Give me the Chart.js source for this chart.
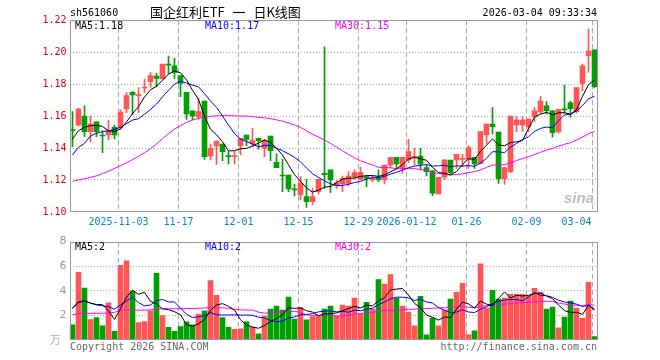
<!DOCTYPE html>
<html><head><meta charset="utf-8">
<script src="https://cdn.jsdelivr.net/npm/chart.js@4/dist/chart.umd.min.js"></script>
<style>
html,body{margin:0;padding:0;background:#fff;}
body{width:660px;height:360px;position:relative;overflow:hidden;font-family:"DejaVu Sans Mono",monospace;}
.t{position:absolute;white-space:pre;font-size:10px;line-height:12px;height:12px;}
canvas{position:absolute;left:0;}
</style></head><body>
<canvas id="k" width="660" height="232" style="top:0;width:660px;height:232px"></canvas>
<canvas id="v" width="660" height="128" style="top:232px;width:660px;height:128px"></canvas>
<script>
const dates = [
"2025-10-22","2025-10-23","2025-10-24","2025-10-27","2025-10-28","2025-10-29","2025-10-30","2025-10-31",
"2025-11-03","2025-11-04","2025-11-05","2025-11-06","2025-11-07",
"2025-11-10","2025-11-11","2025-11-12","2025-11-13","2025-11-14",
"2025-11-17","2025-11-18","2025-11-19","2025-11-20","2025-11-21",
"2025-11-24","2025-11-25","2025-11-26","2025-11-27","2025-11-28",
"2025-12-01","2025-12-02","2025-12-03","2025-12-04","2025-12-05",
"2025-12-08","2025-12-09","2025-12-10","2025-12-11","2025-12-12",
"2025-12-15","2025-12-16","2025-12-17","2025-12-18","2025-12-19",
"2025-12-22","2025-12-23","2025-12-24","2025-12-25","2025-12-26",
"2025-12-29","2025-12-30","2025-12-31",
"2026-01-05","2026-01-06","2026-01-07","2026-01-08","2026-01-09",
"2026-01-12","2026-01-13","2026-01-14","2026-01-15","2026-01-16",
"2026-01-19","2026-01-20","2026-01-21","2026-01-22","2026-01-23",
"2026-01-26","2026-01-27","2026-01-28","2026-01-29","2026-01-30",
"2026-02-02","2026-02-03","2026-02-04","2026-02-05","2026-02-06",
"2026-02-09","2026-02-10","2026-02-11","2026-02-12","2026-02-13",
"2026-02-24","2026-02-25","2026-02-26","2026-02-27",
"2026-03-02","2026-03-03","2026-03-04"];

const openP = [1.1515,1.1544,1.1600,1.1502,1.1563,1.1479,1.1481,1.1529,1.1529,1.1644,
1.1748,1.1727,1.1775,1.1815,1.1850,1.1831,1.1925,1.1913,1.1852,1.1748,
1.1633,1.1596,1.1694,1.1350,1.1413,1.1425,1.1350,1.1346,1.1413,1.1481,
1.1425,1.1460,1.1398,1.1475,1.1310,1.1229,1.1231,1.1142,1.1106,1.1096,
1.1065,1.1127,1.1242,1.1263,1.1163,1.1175,1.1179,1.1221,1.1204,1.1221,
1.1200,1.1217,1.1200,1.1294,1.1342,1.1273,1.1325,1.1342,1.1350,1.1277,
1.1258,1.1113,1.1217,1.1325,1.1325,1.1329,1.1329,1.1342,1.1304,1.1481,
1.1550,1.1500,1.1208,1.1252,1.1544,1.1544,1.1533,1.1596,1.1625,1.1663,
1.1633,1.1502,1.1642,1.1683,1.1627,1.1804,1.1977,1.2013];
const highP = [1.1627,1.1648,1.1663,1.1600,1.1563,1.1508,1.1575,1.1544,1.1638,1.1746,
1.1752,1.1777,1.1829,1.1871,1.1867,1.1925,1.1975,1.1960,1.1852,1.1748,
1.1633,1.1710,1.1694,1.1425,1.1444,1.1425,1.1377,1.1377,1.1460,1.1481,
1.1523,1.1460,1.1454,1.1475,1.1363,1.1329,1.1231,1.1175,1.1221,1.1204,
1.1148,1.1204,1.2033,1.1263,1.1200,1.1225,1.1252,1.1263,1.1279,1.1225,
1.1225,1.1263,1.1294,1.1342,1.1342,1.1342,1.1454,1.1398,1.1398,1.1294,
1.1258,1.1217,1.1329,1.1325,1.1360,1.1360,1.1413,1.1342,1.1502,1.1550,
1.1652,1.1500,1.1277,1.1600,1.1596,1.1596,1.1581,1.1652,1.1725,1.1690,
1.1633,1.1642,1.1794,1.1694,1.1777,1.1925,1.2144,1.2013];
const lowP = [1.1408,1.1538,1.1471,1.1440,1.1471,1.1371,1.1450,1.1456,1.1517,1.1621,
1.1610,1.1621,1.1746,1.1779,1.1783,1.1831,1.1863,1.1835,1.1721,1.1579,
1.1575,1.1579,1.1329,1.1325,1.1298,1.1321,1.1300,1.1300,1.1356,1.1413,
1.1408,1.1392,1.1346,1.1321,1.1277,1.1127,1.1127,1.1100,1.1075,1.1029,
1.1044,1.1113,1.1148,1.1121,1.1148,1.1127,1.1163,1.1204,1.1200,1.1158,
1.1190,1.1190,1.1175,1.1279,1.1273,1.1242,1.1308,1.1294,1.1263,1.1225,
1.1102,1.1113,1.1204,1.1238,1.1273,1.1283,1.1273,1.1273,1.1300,1.1429,
1.1488,1.1179,1.1173,1.1246,1.1502,1.1502,1.1502,1.1565,1.1613,1.1613,
1.1467,1.1492,1.1617,1.1592,1.1617,1.1758,1.1873,1.1777];
const closeP = [1.1508,1.1644,1.1502,1.1550,1.1502,1.1475,1.1508,1.1481,1.1625,1.1727,
1.1731,1.1731,1.1779,1.1852,1.1835,1.1925,1.1917,1.1873,1.1804,1.1613,
1.1600,1.1627,1.1346,1.1398,1.1444,1.1377,1.1346,1.1350,1.1460,1.1454,
1.1446,1.1446,1.1446,1.1383,1.1277,1.1225,1.1144,1.1138,1.1179,1.1065,
1.1096,1.1204,1.1233,1.1200,1.1183,1.1210,1.1225,1.1246,1.1248,1.1210,
1.1210,1.1200,1.1294,1.1342,1.1300,1.1342,1.1377,1.1346,1.1300,1.1252,
1.1117,1.1217,1.1325,1.1246,1.1360,1.1333,1.1402,1.1300,1.1502,1.1550,
1.1533,1.1208,1.1277,1.1600,1.1575,1.1575,1.1581,1.1633,1.1694,1.1633,
1.1496,1.1642,1.1638,1.1646,1.1777,1.1913,1.2006,1.1783];
const volume = [1.23,5.51,4.22,1.66,1.82,1.15,3.02,0.70,6.07,6.44,
3.98,1.42,1.50,2.38,5.43,1.98,1.02,0.70,1.10,1.47,
1.23,2.11,2.38,4.84,3.64,1.82,1.02,0.86,0.91,1.47,
1.02,0.51,1.95,2.51,2.75,2.43,3.48,1.71,2.65,1.63,
1.90,1.90,2.51,2.75,1.95,2.83,2.75,3.40,2.11,3.07,
2.51,4.92,4.55,5.32,3.40,2.75,2.27,1.15,3.56,0.43,
1.79,1.15,2.43,3.32,3.88,4.60,0.43,0.75,6.20,2.59,
4.04,3.32,3.40,3.72,3.72,3.72,3.56,4.20,3.88,2.51,
2.67,0.99,1.87,3.16,2.59,1.79,4.68,0.27];

// moving-average values visible before enough in-window data exists
const ma5Lead = [1.1456,1.1508,1.1529,1.1540];
const ma10Lead = [1.1356,1.1404,1.1429,1.1475,1.1492,1.1502,1.1508,1.1517,1.1529];
const ma30Lead = [1.1192,1.1200,1.1208,1.1217,1.1226,1.1240,1.1255,1.1272,1.1290,1.1308,
1.1327,1.1348,1.1370,1.1395,1.1425,1.1458,1.1490,1.1518,1.1540,1.1560,
1.1575,1.1586,1.1593,1.1598,1.1601,1.1602,1.1602,1.1601,1.1600];
const vma5Lead = [2.60,3.10,3.20,3.00];
const vma10Lead = [2.55,3.05,3.15,3.00,2.85,2.78,2.72,2.50,2.85];
const vma30Lead = [2.06,2.12,2.17,2.17,2.17,2.17,2.20,2.25,2.40,2.43,
2.43,2.43,2.43,2.45,2.52,2.54,2.54,2.54,2.54,2.56,
2.56,2.58,2.60,2.62,2.62,2.62,2.58,2.50,2.45];

const priceTicks = [1.10,1.12,1.14,1.16,1.18,1.20,1.22];
const volTicks = [0,2,4,6,8];
const dateTickIdx = [8,18,28,38,48,56,66,76,87];
const dateTickText = ["2025-11-03","11-17","12-01","12-15","12-29","2026-01-12","01-26","02-09","03-04"];

const RED = '#ff5555', GREEN = '#00a000';
function movingAvg(src, n, lead){
  return src.map((_, i) => i < n - 1 ? lead[i] : src.slice(i - n + 1, i + 1).reduce((a, b) => a + b, 0) / n);
}
const ma5 = movingAvg(closeP, 5, ma5Lead), ma10 = movingAvg(closeP, 10, ma10Lead), ma30 = movingAvg(closeP, 30, ma30Lead);
const vma5 = movingAvg(volume, 5, vma5Lead), vma10 = movingAvg(volume, 10, vma10Lead), vma30 = movingAvg(volume, 30, vma30Lead);
const upColor = c => (closeP[c.dataIndex] >= openP[c.dataIndex] ? RED : GREEN);

function gridPlugin(withLabels){
  return {
    id: 'fg',
    beforeDatasetsDraw(chart){
      const {ctx, chartArea: a, scales: {x}} = chart;
      ctx.save();
      ctx.strokeStyle = '#aaaaaa'; ctx.lineWidth = 1; ctx.setLineDash([5, 3]);
      dateTickIdx.forEach(i => {
        const px = Math.floor(x.getPixelForValue(i) - 2) + 0.5;
        ctx.beginPath(); ctx.moveTo(px, Math.round(a.top)); ctx.lineTo(px, Math.round(a.bottom)); ctx.stroke();
      });
      ctx.restore();
    },
    afterDraw(chart){
      const {ctx, chartArea: a, scales: {x}} = chart;
      ctx.save();
      ctx.strokeStyle = '#999999'; ctx.lineWidth = 1; ctx.setLineDash([]);
      const l = Math.round(a.left), r = Math.round(a.right), t = Math.round(a.top), b = Math.round(a.bottom);
      ctx.strokeRect(l + 0.5, t + 0.5, r - l - 1, b - t - 1);
      if (withLabels){
        ctx.font = '10px "DejaVu Sans Mono"'; ctx.fillStyle = '#0a84d0'; ctx.textBaseline = 'middle';
        dateTickIdx.forEach((i, k) => {
          const px = Math.floor(x.getPixelForValue(i) - 2) + 0.5;
          const w = ctx.measureText(dateTickText[k]).width;
          if (px + w / 2 > a.right){ ctx.textAlign = 'right'; ctx.fillText(dateTickText[k], px - 1, b + 10); }
          else { ctx.textAlign = 'center'; ctx.fillText(dateTickText[k], px, b + 10); }
        });
      }
      ctx.restore();
    }
  };
}
const lineDs = (label, data, color) => ({type:'line', label, data, borderColor: color, borderWidth: 1, pointRadius: 0, tension: 0, fill: false, order: 0});
const xAxis = {type:'category', offset:true, grid:{display:false}, ticks:{display:false}, border:{display:false}, afterFit(s){ s.height = 20; }};

new Chart(document.getElementById('k'), {
  data: {
    labels: dates,
    datasets: [
      {type:'bar', label:'wick', data: lowP.map((l, i) => [l, highP[i]]), backgroundColor: upColor, barThickness: 1, grouped: false, order: 2},
      {type:'bar', label:'body', data: openP.map((o, i) => [o, closeP[i]]), backgroundColor: upColor, barThickness: 5, minBarLength: 1, grouped: false, order: 1},
      lineDs('MA5', ma5, '#000000'), lineDs('MA10', ma10, '#0000ff'), lineDs('MA30', ma30, '#ff00ff')
    ]
  },
  options: {
    responsive:false, animation:false, events:[],
    layout:{padding:{left:0, right:62.5, top:20, bottom:0}},
    plugins:{legend:{display:false}, tooltip:{enabled:false}},
    scales:{
      x: xAxis,
      y: {min:1.10, max:1.22,
          afterBuildTicks(s){ s.ticks = priceTicks.map(v => ({value:v})); },
          afterFit(s){ s.width = 69.5; },
          ticks:{color:'#e00000', padding:3, font:{family:'DejaVu Sans Mono', size:10}, callback: v => Number(v).toFixed(2)},
          grid:{drawTicks:false, lineWidth:1, color: c => (c.tick && (c.tick.value < 1.105 || c.tick.value > 1.215)) ? 'rgba(0,0,0,0)' : '#aaaaaa'},
          border:{display:false, dash:[1,2]}}
    }
  },
  plugins:[gridPlugin(true)]
});

new Chart(document.getElementById('v'), {
  data: {
    labels: dates,
    datasets: [
      {type:'bar', label:'vol', data: volume, backgroundColor: upColor, barThickness: 5, order: 1},
      lineDs('MA5', vma5, '#000000'), lineDs('MA10', vma10, '#0000ff'), lineDs('MA30', vma30, '#ff00ff')
    ]
  },
  options: {
    responsive:false, animation:false, events:[],
    layout:{padding:{left:0, right:62.5, top:9, bottom:0}},
    plugins:{legend:{display:false}, tooltip:{enabled:false}},
    scales:{
      x: xAxis,
      y: {min:0, max:8,
          afterBuildTicks(s){ s.ticks = volTicks.map(v => ({value:v})); },
          afterFit(s){ s.width = 69.5; },
          ticks:{color:'#999999', padding:3, font:{family:'DejaVu Sans', size:11}, callback: v => v === 0 ? '' : String(v)},
          grid:{drawTicks:false, lineWidth:1, color: c => (c.tick && (c.tick.value === 0 || c.tick.value === 8)) ? 'rgba(0,0,0,0)' : '#aaaaaa'},
          border:{display:false, dash:[1,2]}}
    }
  },
  plugins:[gridPlugin(false)]
});

function txt(s, opt){
  const d = document.createElement('div');
  d.className = 't'; d.textContent = s;
  Object.assign(d.style, opt);
  document.body.appendChild(d);
  return d;
}
txt('sh561060', {left:'70px', top:'7px', color:'#000'});
txt('国企红利ETF 一 日K线图', {left:'150px', top:'4px', color:'#000', fontFamily:'"Noto Sans CJK SC"', fontSize:'13px', lineHeight:'16px', height:'16px', wordSpacing:'5px'});
txt('2026-03-04 09:33:34', {right:'63px', top:'7px', color:'#000'});
txt('MA5:1.18', {left:'75px', top:'20px', color:'#000'});
txt('MA10:1.17', {left:'205px', top:'20px', color:'#0000ff'});
txt('MA30:1.15', {left:'335px', top:'20px', color:'#ff00ff'});
txt('MA5:2', {left:'75px', top:'241px', color:'#000'});
txt('MA10:2', {left:'205px', top:'241px', color:'#0000ff'});
txt('MA30:2', {left:'335px', top:'241px', color:'#ff00ff'});
txt('Copyright 2026 SINA.COM', {left:'70px', top:'341px', color:'#666'});
txt('http://finance.sina.com.cn', {right:'63px', top:'341px', color:'#666'});
txt('万', {left:'50px', top:'333px', color:'#aaa', fontFamily:'"Noto Sans CJK SC"', fontSize:'11px'});
txt('sina', {left:'564px', top:'190px', color:'#bbb', fontFamily:'"Liberation Sans"', fontSize:'15px', fontWeight:'bold', fontStyle:'italic', lineHeight:'15px', height:'15px'});
</script>
</body></html>
